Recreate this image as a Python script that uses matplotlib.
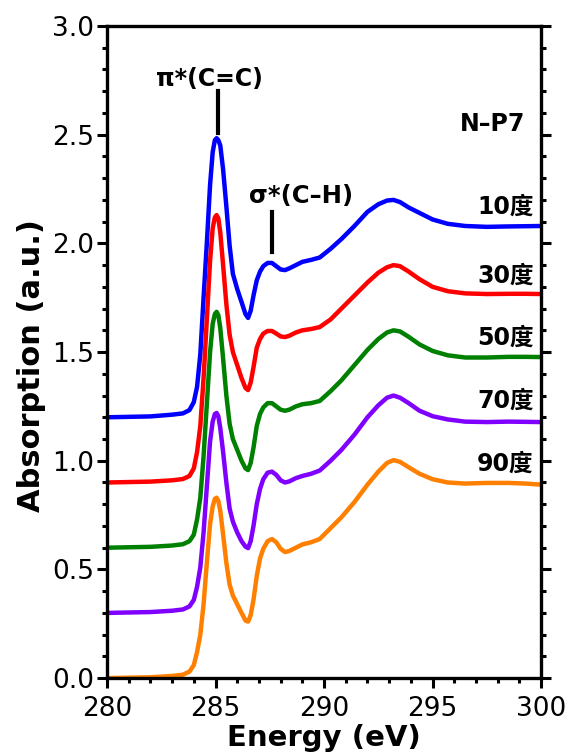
import numpy as np
import matplotlib
matplotlib.use("Agg")
import matplotlib.pyplot as plt
from matplotlib.ticker import MultipleLocator

plt.rcParams['font.family'] = ['DejaVu Sans', 'Noto Sans CJK SC']

energy = [280.0, 282.0, 283.0, 283.5, 283.8, 284.0, 284.15, 284.3, 284.45, 284.6,
          284.75, 284.87, 284.97, 285.05, 285.13, 285.22, 285.35, 285.5, 285.65, 285.8,
          286.0, 286.2, 286.38, 286.5, 286.62, 286.75, 286.9, 287.05, 287.2, 287.4,
          287.6, 287.8, 288.0, 288.2, 288.4, 288.7, 289.0, 289.4, 289.8, 290.3,
          290.8, 291.4, 292.0, 292.5, 292.9, 293.2, 293.5, 293.9, 294.4, 295.0,
          295.7, 296.5, 297.5, 298.5, 299.3, 300.0]

# absorption of each angle, before vertical offset
abs_10 = [0.0, 0.004, 0.012, 0.018, 0.033, 0.07, 0.14, 0.29, 0.55, 0.80,
          1.07, 1.22, 1.275, 1.284, 1.275, 1.25, 1.14, 0.97, 0.79, 0.66,
          0.59, 0.53, 0.475, 0.457, 0.49, 0.56, 0.63, 0.67, 0.695, 0.71,
          0.71, 0.695, 0.68, 0.677, 0.685, 0.70, 0.715, 0.724, 0.735, 0.775,
          0.82, 0.88, 0.945, 0.98, 0.997, 1.0, 0.99, 0.965, 0.94, 0.91,
          0.89, 0.88, 0.876, 0.878, 0.879, 0.88]
abs_30 = [0.0, 0.004, 0.01, 0.016, 0.03, 0.065, 0.14, 0.26, 0.48, 0.75,
          1.02, 1.17, 1.22, 1.23, 1.215, 1.15, 1.0, 0.82, 0.68, 0.60,
          0.54, 0.48, 0.435, 0.425, 0.46, 0.53, 0.62, 0.66, 0.685, 0.697,
          0.697, 0.685, 0.672, 0.669, 0.675, 0.69, 0.70, 0.706, 0.715, 0.75,
          0.80, 0.86, 0.92, 0.965, 0.99, 1.0, 0.995, 0.97, 0.935, 0.90,
          0.88, 0.87, 0.867, 0.868, 0.868, 0.867]
abs_50 = [0.0, 0.004, 0.01, 0.016, 0.03, 0.06, 0.13, 0.23, 0.42, 0.66,
          0.90, 1.03, 1.075, 1.085, 1.07, 1.01, 0.87, 0.70, 0.57, 0.50,
          0.45, 0.40, 0.365, 0.357, 0.39, 0.46, 0.56, 0.615, 0.645, 0.665,
          0.665, 0.65, 0.635, 0.63, 0.635, 0.65, 0.66, 0.665, 0.675, 0.72,
          0.77, 0.84, 0.91, 0.96, 0.99, 1.0, 0.995, 0.97, 0.935, 0.905,
          0.885, 0.875, 0.875, 0.878, 0.878, 0.877]
abs_70 = [0.0, 0.004, 0.01, 0.016, 0.03, 0.06, 0.12, 0.21, 0.37, 0.58,
          0.79, 0.88, 0.915, 0.92, 0.905, 0.85, 0.74, 0.60, 0.48, 0.42,
          0.37, 0.33, 0.305, 0.298, 0.33, 0.40, 0.50, 0.57, 0.615, 0.645,
          0.65, 0.635, 0.61, 0.60, 0.605, 0.62, 0.63, 0.64, 0.655, 0.70,
          0.75, 0.82, 0.90, 0.955, 0.99, 1.0, 0.99, 0.965, 0.93, 0.905,
          0.89, 0.88, 0.878, 0.88, 0.879, 0.878]
abs_90 = [0.0, 0.004, 0.01, 0.016, 0.03, 0.06, 0.12, 0.20, 0.34, 0.53,
          0.71, 0.79, 0.825, 0.83, 0.815, 0.77, 0.66, 0.53, 0.43, 0.38,
          0.34, 0.30, 0.265, 0.26, 0.29, 0.36, 0.47, 0.55, 0.595, 0.63,
          0.64, 0.625, 0.595, 0.58, 0.585, 0.60, 0.615, 0.625, 0.64, 0.69,
          0.74, 0.81, 0.89, 0.95, 0.99, 1.003, 0.995, 0.97, 0.94, 0.915,
          0.90, 0.895, 0.898, 0.898, 0.895, 0.89]

labels = ["10度", "30度", "50度", "70度", "90度"]
offsets = [1.2, 0.9, 0.6, 0.3, 0.0]
label_y = [2.17, 1.85, 1.565, 1.275, 0.985]
colors = ["#0000ff", "#ff0000", "#008000", "#8000ff", "#ff8000"]
series = [abs_10, abs_30, abs_50, abs_70, abs_90]

fig = plt.figure(figsize=(5.69, 7.56), dpi=100)
ax = fig.add_axes([0.188, 0.103, 0.763, 0.8626])

for y, off, c, lab, ly in zip(series, offsets, colors, labels, label_y):
    ax.plot(energy, np.array(y) + off, color=c, lw=3.2,
            solid_joinstyle="round", solid_capstyle="butt")
    ax.text(299.65, ly, lab, ha="right", va="center", fontsize=17, fontweight="bold")

# peak markers
ax.plot([285.1, 285.1], [2.51, 2.70], color="black", lw=3)
ax.text(284.7, 2.757, "π*(C=C)", ha="center", va="center", fontsize=17, fontweight="bold")
ax.plot([287.6, 287.6], [1.96, 2.145], color="black", lw=3)
ax.text(288.94, 2.22, "σ*(C–H)", ha="center", va="center", fontsize=17.5, fontweight="bold")
ax.text(299.26, 2.55, "N–P7", ha="right", va="center", fontsize=17, fontweight="bold")

ax.set_xlim(280, 300)
ax.set_ylim(0, 3.0)
ax.xaxis.set_major_locator(MultipleLocator(5))
ax.xaxis.set_minor_locator(MultipleLocator(1))
ax.yaxis.set_major_locator(MultipleLocator(0.5))
ax.yaxis.set_minor_locator(MultipleLocator(0.1))
ax.yaxis.set_major_formatter(plt.FormatStrFormatter("%.1f"))

for sp in ax.spines.values():
    sp.set_linewidth(2.4)
ax.tick_params(which="both", direction="out", width=2.2, labelsize=19,
               left=True, bottom=True, right=True, top=False)
ax.tick_params(which="major", length=7)
ax.tick_params(axis="x", which="major", pad=6)
ax.tick_params(axis="y", which="major", pad=2)
ax.tick_params(which="minor", length=3.5)

ax.set_xlabel("Energy (eV)", fontsize=21, fontweight="bold", labelpad=1)
ax.set_ylabel("Absorption (a.u.)", fontsize=22, fontweight="bold", labelpad=1)
ax.yaxis.set_label_coords(-0.14, 0.48)

fig.savefig("out.png", dpi=100)
